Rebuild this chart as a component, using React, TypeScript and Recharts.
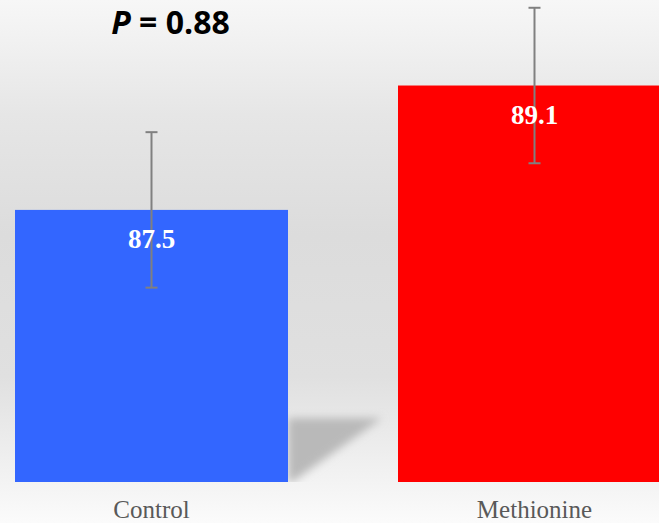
import { Bar, BarChart, ErrorBar, LabelList, XAxis, YAxis } from 'recharts';

const groups = ['Control', 'Methionine'];
const means = [87.5, 89.1];
const errors = [1.0, 1.0];
const colors = ['#3366FF', '#FF0000'];

const data = groups.map((name, i) => ({ name, value: means[i], err: errors[i] }));

const W = 659;
const H = 523;

// bar shape with the soft floor shadow that sits to the right of the Control bar
function ShadowBar(props: any) {
  const { x, y, width, height, index } = props;
  const bottom = y + height;
  const right = x + width;
  return (
    <g>
      {index === 0 && (
        <polygon
          points={`${right},${bottom - 64} ${right + 94},${bottom - 64} ${right + 4},${bottom} ${right},${bottom}`}
          fill="#b9b9b9"
          filter="url(#bar-shadow-blur)"
        />
      )}
      <rect x={x} y={y} width={width} height={height} fill={colors[index]} />
    </g>
  );
}

function ValueLabel(props: any) {
  const { x, y, width, value } = props;
  return (
    <text
      x={x + width / 2}
      y={y + 38}
      textAnchor="middle"
      fill="#ffffff"
      fontFamily="'Liberation Serif', 'DejaVu Serif', serif"
      fontWeight="bold"
      fontSize={27}
    >
      {value}
    </text>
  );
}

function CategoryTick(props: any) {
  const { x, payload } = props;
  return (
    <text
      x={x}
      y={518}
      textAnchor="middle"
      fill="#595959"
      fontFamily="'Liberation Serif', 'DejaVu Serif', serif"
      fontSize={25}
    >
      {payload.value}
    </text>
  );
}

export default function App() {
  return (
    <div
      style={{
        position: 'fixed',
        left: 0,
        top: 0,
        width: W,
        height: H,
        overflow: 'hidden',
        background:
          'linear-gradient(to bottom, #f7f7f7 0%, #e6e6e6 22%, #dcdcdc 45%, #e0e0e0 72%, #f3f3f3 92%, #fbfbfb 100%)',
      }}
    >
      <div style={{ position: 'absolute', left: -40, top: 0 }}>
        <BarChart
          width={766}
          height={H}
          data={data}
          margin={{ top: 0, right: 0, bottom: 0, left: 0 }}
          barCategoryGap={55}
        >
          <defs>
            <filter id="bar-shadow-blur" x="-20%" y="-20%" width="140%" height="140%">
              <feGaussianBlur stdDeviation="4" />
            </filter>
          </defs>
          <XAxis
            dataKey="name"
            height={41}
            axisLine={false}
            tickLine={false}
            tick={<CategoryTick />}
            interval={0}
          />
          <YAxis hide domain={[84, 90.2]} allowDataOverflow />
          <Bar dataKey="value" shape={<ShadowBar />} isAnimationActive={false}>
            <LabelList dataKey="value" content={<ValueLabel />} />
            <ErrorBar dataKey="err" width={6} stroke="#808080" strokeWidth={2} />
          </Bar>
        </BarChart>
      </div>
      <div
        style={{
          position: 'absolute',
          left: 0,
          width: 341,
          top: 0,
          textAlign: 'center',
          fontFamily: "'Open Sans', 'Liberation Sans', sans-serif",
          fontWeight: 700,
          fontSize: 32,
          lineHeight: 'normal',
          color: '#000',
        }}
      >
        <i>P</i> = 0.88
      </div>
    </div>
  );
}
